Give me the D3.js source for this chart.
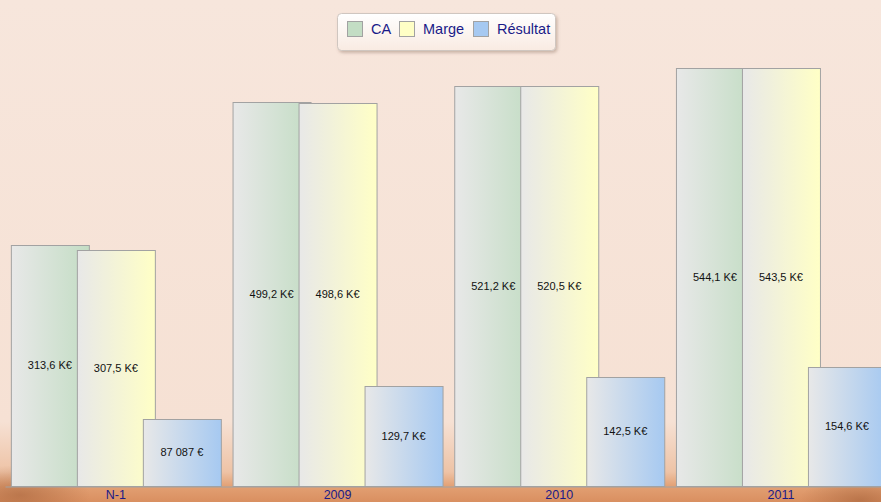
<!DOCTYPE html>
<html>
<head>
<meta charset="utf-8">
<script src="https://cdn.jsdelivr.net/npm/d3@7"></script>
<style>
  body { margin: 0; background: #f7e6dc; }
  svg { display: block; font-family: "Liberation Sans", Arial, sans-serif; }
</style>
</head>
<body>
<svg id="chart" width="881" height="502"></svg>
<script>
// chart data (K€)
var categories = ["N-1", "2009", "2010", "2011"];
var seriesNames = ["CA", "Marge", "Résultat"];
var caValues = [313.6, 499.2, 521.2, 544.1];
var margeValues = [307.5, 498.6, 520.5, 543.5];
var resultatValues = [87.087, 129.7, 142.5, 154.6];
var caLabels = ["313,6 K€", "499,2 K€", "521,2 K€", "544,1 K€"];
var margeLabels = ["307,5 K€", "498,6 K€", "520,5 K€", "543,5 K€"];
var resultatLabels = ["87 087 €", "129,7 K€", "142,5 K€", "154,6 K€"];

var svg = d3.select("#chart"),
    width = +svg.attr("width"),
    height = +svg.attr("height");

var baseY = 486;
var colors = { "CA": "#c3ddc4", "Marge": "#ffffc6", "Résultat": "#a6c9f1" };

var defs = svg.append("defs");

// background
var bg = defs.append("linearGradient").attr("id", "bg")
    .attr("x1", 0).attr("y1", 0).attr("x2", 0).attr("y2", 1);
bg.append("stop").attr("offset", "0").attr("stop-color", "#f7e6dc");
bg.append("stop").attr("offset", "0.84").attr("stop-color", "#f6e1d4");
bg.append("stop").attr("offset", "0.94").attr("stop-color", "#eec3a6");
bg.append("stop").attr("offset", "0.97").attr("stop-color", "#e29f72");
bg.append("stop").attr("offset", "1").attr("stop-color", "#d98f60");
svg.append("rect").attr("width", width).attr("height", height).attr("fill", "url(#bg)");

// darker photo patches in the bottom corners
var patch = defs.append("radialGradient").attr("id", "patch");
patch.append("stop").attr("offset", "0").attr("stop-color", "#a5623a").attr("stop-opacity", 0.6);
patch.append("stop").attr("offset", "1").attr("stop-color", "#a5623a").attr("stop-opacity", 0);
svg.append("ellipse").attr("cx", 20).attr("cy", 495).attr("rx", 70).attr("ry", 30).attr("fill", "url(#patch)");
svg.append("ellipse").attr("cx", 860).attr("cy", 500).attr("rx", 60).attr("ry", 25).attr("fill", "url(#patch)");

// bar gradients
seriesNames.forEach(function (s, i) {
    var g = defs.append("linearGradient").attr("id", "grad" + i)
        .attr("x1", 0).attr("y1", 0).attr("x2", 1).attr("y2", 0);
    g.append("stop").attr("offset", "0").attr("stop-color", "#e8e8e8");
    g.append("stop").attr("offset", "1").attr("stop-color", colors[s]);
});

var x0 = d3.scaleBand().domain(categories).range([5, 5 + 4 * 221.7]).padding(0);
var x1 = d3.scaleBand().domain(seriesNames).range([5.85, 5.85 + 198]).padding(0);
var barW = x1.step() * 78 / 66;

var y = d3.scaleLinear().domain([0, 600]).range([baseY, baseY - 600 * 0.7683]);

var data = [];
categories.forEach(function (c, i) {
    data.push({ cat: c, s: 0, v: caValues[i], label: caLabels[i] });
    data.push({ cat: c, s: 1, v: margeValues[i], label: margeLabels[i] });
    data.push({ cat: c, s: 2, v: resultatValues[i], label: resultatLabels[i] });
});

var bars = svg.append("g").selectAll("g").data(data).enter().append("g")
    .attr("transform", function (d) { return "translate(" + (x0(d.cat) + x1(seriesNames[d.s])) + ",0)"; });

bars.append("rect")
    .attr("x", 0.5)
    .attr("y", function (d) { return Math.round(y(d.v)) + 0.5; })
    .attr("width", barW)
    .attr("height", function (d) { return baseY - Math.round(y(d.v)); })
    .attr("fill", function (d) { return "url(#grad" + d.s + ")"; })
    .attr("stroke", "#a2a2a2")
    .attr("stroke-width", 1);

bars.append("text")
    .attr("x", barW / 2)
    .attr("y", function (d) { return (y(d.v) + baseY) / 2; })
    .attr("dy", "0.35em")
    .attr("text-anchor", "middle")
    .attr("font-size", "11px")
    .attr("fill", "#111")
    .text(function (d) { return d.label; });

// category axis
var xAxis = svg.append("g")
    .attr("transform", "translate(0," + (baseY + 0.5) + ")")
    .call(d3.axisBottom(x0).tickSize(0).tickPadding(4));
xAxis.select(".domain").attr("stroke", "#a2a2a2");
xAxis.selectAll("text")
    .attr("font-size", "12.5px")
    .attr("font-family", "Liberation Sans, Arial, sans-serif")
    .attr("fill", "#1a1a88");

// legend
var shadow = defs.append("filter").attr("id", "shadow")
    .attr("x", "-10%").attr("y", "-20%").attr("width", "130%").attr("height", "160%");
shadow.append("feDropShadow").attr("dx", 1.5).attr("dy", 2).attr("stdDeviation", 1.5)
    .attr("flood-color", "#7a5a4a").attr("flood-opacity", 0.35);

var lg = defs.append("linearGradient").attr("id", "legendBg")
    .attr("x1", 0).attr("y1", 0).attr("x2", 0).attr("y2", 1);
lg.append("stop").attr("offset", "0").attr("stop-color", "#ffffff");
lg.append("stop").attr("offset", "1").attr("stop-color", "#f9ebe2");

var legend = svg.append("g").attr("transform", "translate(337,13)");
legend.append("rect")
    .attr("x", 0.5).attr("y", 0.5)
    .attr("width", 218).attr("height", 37)
    .attr("rx", 4)
    .attr("fill", "url(#legendBg)")
    .attr("stroke", "#cfc6c0")
    .attr("filter", "url(#shadow)");

var legendX = [10, 62, 136];
seriesNames.forEach(function (s, i) {
    var item = legend.append("g").attr("transform", "translate(" + legendX[i] + ",8)");
    item.append("rect")
        .attr("x", 0.5).attr("y", 0.5)
        .attr("width", 15).attr("height", 15)
        .attr("fill", colors[s])
        .attr("stroke", "#a2a2a2");
    item.append("text")
        .attr("x", 24)
        .attr("y", 8)
        .attr("dy", "0.36em")
        .attr("font-size", "14.5px")
        .attr("fill", "#1a1a88")
        .text(s);
});
</script>
</body>
</html>
